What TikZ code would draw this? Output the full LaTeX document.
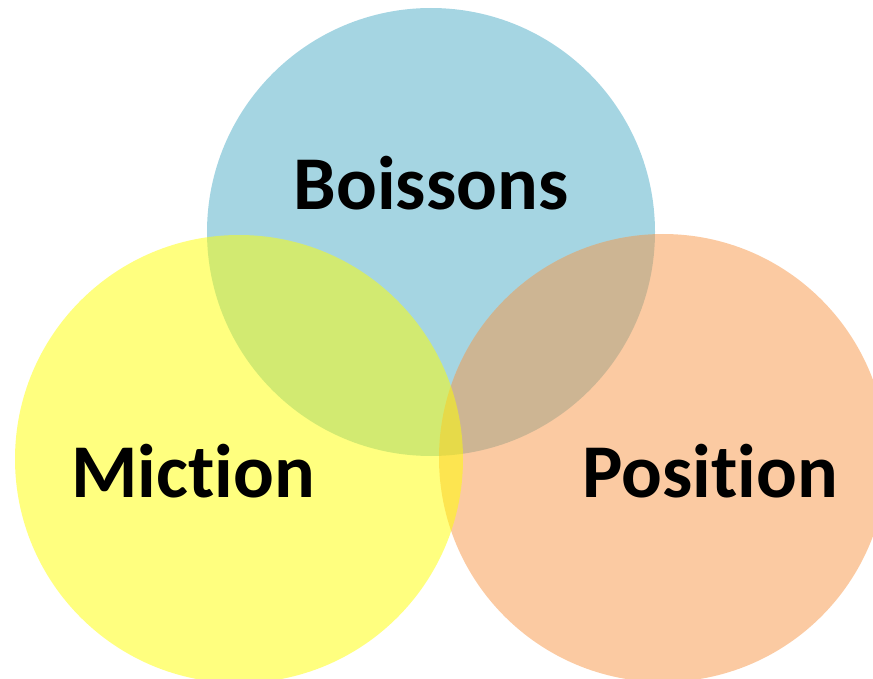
\documentclass[tikz,border=0pt]{standalone}
\usepackage{fontspec}
\setmainfont{Carlito}[Ligatures={NoCommon}]
\usepackage{xcolor}
\usepackage{tikz}
\usetikzlibrary{positioning}

\definecolor{ciel}{HTML}{4BACC6}
\definecolor{peche}{HTML}{F79646}
\definecolor{citron}{HTML}{FFFF00}

\begin{document}
\begin{tikzpicture}[
  x=1pt, y=-1pt,
  set/.style={circle, minimum size=448pt, inner sep=0pt, fill opacity=0.5},
  word/.style={anchor=base, text=black, font=\fontsize{76}{90}\selectfont\bfseries},
]
\useasboundingbox (0,0) rectangle (873,679);

% Les trois ensembles (ordre : bleu, orange, jaune)
\node[set, fill=ciel] at (431, 232) (boissons) {};
\node[set, fill=peche] at (663, 458) (position) {};
\node[set, fill=citron] at (239, 459) (miction) {};

% Titres
\node[word] at (431, 210) (tboissons) {Boissons};
\node[word] at (193, 497) (tmiction) {Miction};
\node[word] at (710, 497) (tposition) {Position};

\end{tikzpicture}
\end{document}
